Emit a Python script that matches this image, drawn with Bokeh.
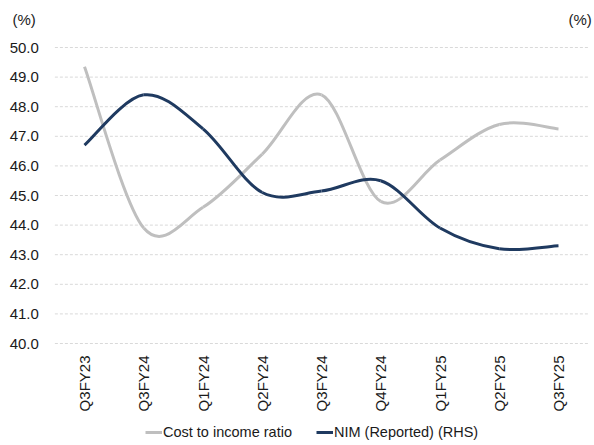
import numpy as np
from bokeh.plotting import figure
from bokeh.models import (Range1d, FixedTicker, NumeralTickFormatter, Label,
                          Legend, LegendItem, ColumnDataSource)
from bokeh.embed import file_html
from bokeh.resources import INLINE

# ---- data ----
quarters = ["Q3FY23", "Q3FY24", "Q1FY24", "Q2FY24", "Q3FY24",
            "Q4FY24", "Q1FY25", "Q2FY25", "Q3FY25"]
cost_to_income = [49.35, 43.9, 44.6, 46.4, 48.4, 44.8, 46.2, 47.4, 47.25]
nim_reported = [46.7, 48.4, 47.25, 45.1, 45.15, 45.5, 43.9, 43.2, 43.3]
y_ticks = [40, 41, 42, 43, 44, 45, 46, 47, 48, 49, 50]

GRAY = "#BFBFBF"
NAVY = "#1F3A60"
GRID = "#D9D9D9"
FONT = "Liberation Sans"
TXT = "#1a1a1a"

# ---- layout (pixels) ----
W, H = 594, 445
X0_PX, DX_PX = 84.0, 59.25      # first category centre, category step
Y50_PX, DY_PX = 47.0, 29.6      # top gridline position, px per 1.0

n = len(quarters)
x_start = -X0_PX / DX_PX
x_end = (W - X0_PX) / DX_PX
y_top = y_ticks[-1] + Y50_PX / DY_PX
y_bot = y_ticks[-1] - (H - Y50_PX) / DY_PX

p = figure(width=W, height=H, output_backend="svg", toolbar_location=None,
           x_range=Range1d(x_start, x_end), y_range=Range1d(y_bot, y_top),
           min_border=0, min_border_left=0, min_border_right=0,
           min_border_top=0, min_border_bottom=0)
p.extra_y_ranges = {"rhs": Range1d(y_bot, y_top)}
p.outline_line_color = None
p.background_fill_color = "white"
p.border_fill_color = "white"
p.xgrid.grid_line_color = None
p.ygrid.grid_line_color = None

xs = np.arange(n, dtype=float)
x_left, x_right = xs[0] - 0.5, xs[-1] + 0.5

# dashed horizontal gridlines across the category band
p.segment(x0=[x_left] * len(y_ticks), x1=[x_right] * len(y_ticks),
          y0=y_ticks, y1=y_ticks, line_color=GRID, line_width=1,
          line_dash="3 2")


def smooth_segments(x, y):
    """Catmull-Rom style bezier control points through the data points."""
    x = np.asarray(x, float)
    y = np.asarray(y, float)
    m = len(x)
    xp = np.concatenate([[x[0]], x, [x[-1]]])
    yp = np.concatenate([[y[0]], y, [y[-1]]])
    d = dict(x0=[], y0=[], x1=[], y1=[], cx0=[], cy0=[], cx1=[], cy1=[])
    for i in range(m - 1):
        p0x, p0y = xp[i], yp[i]
        p1x, p1y = xp[i + 1], yp[i + 1]
        p2x, p2y = xp[i + 2], yp[i + 2]
        p3x, p3y = xp[i + 3], yp[i + 3]
        d["x0"].append(p1x); d["y0"].append(p1y)
        d["x1"].append(p2x); d["y1"].append(p2y)
        d["cx0"].append(p1x + (p2x - p0x) / 6.0)
        d["cy0"].append(p1y + (p2y - p0y) / 6.0)
        d["cx1"].append(p2x - (p3x - p1x) / 6.0)
        d["cy1"].append(p2y - (p3y - p1y) / 6.0)
    return ColumnDataSource(d)


r1 = p.bezier(x0="x0", y0="y0", x1="x1", y1="y1", cx0="cx0", cy0="cy0",
              cx1="cx1", cy1="cy1", source=smooth_segments(xs, cost_to_income),
              line_color=GRAY, line_width=3)
r2 = p.bezier(x0="x0", y0="y0", x1="x1", y1="y1", cx0="cx0", cy0="cy0",
              cx1="cx1", cy1="cy1", source=smooth_segments(xs, nim_reported),
              line_color=NAVY, line_width=3, y_range_name="rhs")

legend = Legend(items=[LegendItem(label="Cost to income ratio", renderers=[r1]),
                       LegendItem(label="NIM (Reported) (RHS)", renderers=[r2])],
                orientation="horizontal", location=(145, 3),
                border_line_color=None, background_fill_alpha=0,
                padding=0, margin=0, spacing=24, glyph_width=17,
                glyph_height=20, label_height=20,
                label_standoff=1, label_text_font=FONT,
                label_text_font_size="14.5px", label_text_color=TXT)
p.add_layout(legend, "center")

# x axis pinned on the 40.0 line
p.xaxis.fixed_location = y_ticks[0]
p.xaxis.ticker = FixedTicker(ticks=list(xs))
p.xaxis.major_label_overrides = {i: q for i, q in enumerate(quarters)}
p.xaxis.major_label_orientation = np.pi / 2
p.xaxis.major_label_standoff = 12
p.xaxis.axis_line_color = None
p.xaxis.major_tick_line_color = None
p.xaxis.minor_tick_line_color = None
p.xaxis.major_tick_out = 0
p.xaxis.major_tick_in = 0
p.xaxis.major_label_text_font = FONT
p.xaxis.major_label_text_font_size = "15px"
p.xaxis.major_label_text_color = TXT

# y axis pinned at the left edge of the category band
p.yaxis.fixed_location = x_left
p.yaxis.ticker = FixedTicker(ticks=y_ticks)
p.yaxis.formatter = NumeralTickFormatter(format="0.0")
p.yaxis.axis_line_color = None
p.yaxis.major_tick_line_color = None
p.yaxis.minor_tick_line_color = None
p.yaxis.major_tick_out = 0
p.yaxis.major_tick_in = 0
p.yaxis.major_label_standoff = 16
p.yaxis.major_label_text_font = FONT
p.yaxis.major_label_text_font_size = "15px"
p.yaxis.major_label_text_color = TXT

# unit labels (screen units from the frame's bottom-left = page bottom-left)
p.add_layout(Label(x=12, y=H - 27, x_units="screen", y_units="screen",
                   text="(%)", text_font=FONT, text_font_size="15px",
                   text_color=TXT))
p.add_layout(Label(x=W - 26, y=H - 27, x_units="screen", y_units="screen",
                   text="(%)", text_font=FONT, text_font_size="15px",
                   text_color=TXT))

open("out.html", "w").write(file_html(p, INLINE))
